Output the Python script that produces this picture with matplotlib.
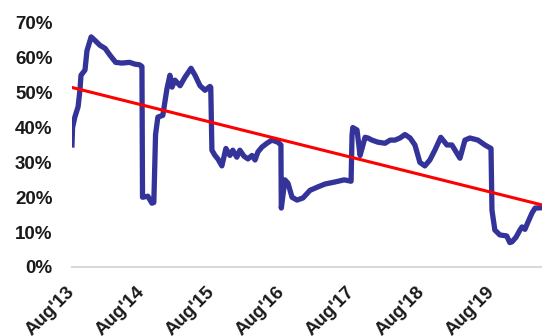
#importing essential libraries
import numpy as np
import pandas as pd
import matplotlib
matplotlib.use('Agg')
import matplotlib.pyplot as plt
from matplotlib.ticker import FuncFormatter

#series values (share, %)
dates = ['2013-08-01', '2013-08-04', '2013-08-16', '2013-09-02', '2013-09-12', '2013-09-17',
         '2013-10-08', '2013-10-18', '2013-11-09', '2013-11-29', '2013-12-25', '2014-01-21',
         '2014-02-16', '2014-03-17', '2014-04-18', '2014-05-29', '2014-06-25', '2014-07-20',
         '2014-08-01', '2014-08-04', '2014-09-01', '2014-09-22', '2014-10-02', '2014-10-11',
         '2014-10-23', '2014-11-18', '2014-12-09', '2014-12-25', '2015-01-05', '2015-01-20',
         '2015-02-16', '2015-03-13', '2015-04-14', '2015-05-05', '2015-05-31', '2015-06-26',
         '2015-07-22', '2015-07-26', '2015-08-01', '2015-08-17', '2015-09-01', '2015-09-22',
         '2015-10-13', '2015-11-03', '2015-11-18', '2015-12-09', '2015-12-25', '2016-01-15',
         '2016-02-05', '2016-02-26', '2016-03-13', '2016-03-28', '2016-04-18', '2016-05-14',
         '2016-06-09', '2016-07-10', '2016-07-26', '2016-07-28', '2016-08-16', '2016-09-01',
         '2016-09-22', '2016-10-18', '2016-11-18', '2016-12-25', '2017-02-05', '2017-03-13',
         '2017-05-05', '2017-06-21', '2017-07-27', '2017-08-01', '2017-08-05', '2017-08-27',
         '2017-09-12', '2017-09-22', '2017-10-08', '2017-10-23', '2017-11-13', '2017-12-14',
         '2018-01-20', '2018-02-16', '2018-03-13', '2018-04-08', '2018-05-04', '2018-05-31',
         '2018-06-25', '2018-07-21', '2018-08-16', '2018-09-11', '2018-10-07', '2018-11-07',
         '2018-12-09', '2019-01-04', '2019-02-15', '2019-03-13', '2019-04-08', '2019-05-20',
         '2019-06-25', '2019-07-27', '2019-08-01', '2019-08-16', '2019-09-11', '2019-10-17',
         '2019-11-02', '2019-11-13', '2019-12-04', '2019-12-25', '2020-01-05', '2020-01-20',
         '2020-02-05', '2020-02-26', '2020-03-13', '2020-04-18']
values = [35, 40, 43, 46, 51, 55,
          56.5, 62, 66, 65, 63.6, 62.7,
          60.7, 58.7, 58.5, 58.7, 58.2, 58.0,
          57.5, 20, 20.3, 18.3, 18.5, 38,
          43, 43.5, 51, 55, 51.6, 53.6,
          52, 54.4, 57, 55, 52, 50.7,
          51.8, 51.5, 33.5, 32, 31, 29,
          34, 32, 33.5, 31.5, 33.5, 31.8,
          31, 32, 30.7, 33, 34.4, 35.5,
          36.4, 35.8, 35, 16.9, 25, 24,
          20, 19.2, 19.8, 22, 23, 23.8,
          24.4, 25, 24.6, 37.8, 40, 39.3,
          32, 34, 37.2, 37, 36.4, 35.8,
          35.5, 36.4, 36.4, 37, 38, 37,
          35, 30, 29, 30.7, 33.5, 37.2,
          35, 35, 31.2, 36.4, 37, 36.4,
          35, 34, 16.3, 10.6, 9.2, 8.9,
          7, 7.2, 8.5, 10.6, 11.5, 10.8,
          12.9, 15.5, 16.9, 17]

#trend line end points
trend_dates = ['2013-08-01', '2020-04-18']
trend_values = [51.5, 17.8]

tick_dates = ['2013-08-01', '2014-08-01', '2015-08-01', '2016-08-01',
              '2017-08-01', '2018-08-01', '2019-08-01']
tick_labels = ["Aug'13", "Aug'14", "Aug'15", "Aug'16", "Aug'17", "Aug'18", "Aug'19"]

X = pd.to_datetime(dates)
Y = np.array(values)

plt.rcParams['font.family'] = ['Liberation Sans', 'DejaVu Sans']
fig = plt.figure(figsize=(5.42, 3.36), dpi=100)
ax = fig.add_axes([0.1328, 0.2054, 0.8672, 0.7262])

ax.plot(X, Y, color='#333399', linewidth=3.8, solid_joinstyle='round')
ax.plot(pd.to_datetime(trend_dates), trend_values, color='#ff0000', linewidth=2.2)

ax.set_ylim(0, 70)
ax.set_yticks(np.arange(0, 71, 10))
ax.yaxis.set_major_formatter(FuncFormatter(lambda v, p: '%d%%' % v))
ax.set_xlim(X[0], X[-1])
ax.set_xticks(pd.to_datetime(tick_dates))
ax.set_xticklabels(tick_labels, rotation=45, ha='right', va='center', rotation_mode='anchor')

for lab in ax.get_xticklabels() + ax.get_yticklabels():
    lab.set_fontsize(13.5)
    lab.set_fontweight('bold')
    lab.set_color('#1a1a1a')

ax.tick_params(axis='both', length=0)
ax.tick_params(axis='y', pad=14)
ax.tick_params(axis='x', pad=16)
for s in ['top', 'right', 'left']:
    ax.spines[s].set_visible(False)
ax.spines['bottom'].set_color('#d9d9d9')
ax.spines['bottom'].set_linewidth(1.5)

plt.savefig('out.png', dpi=100)
